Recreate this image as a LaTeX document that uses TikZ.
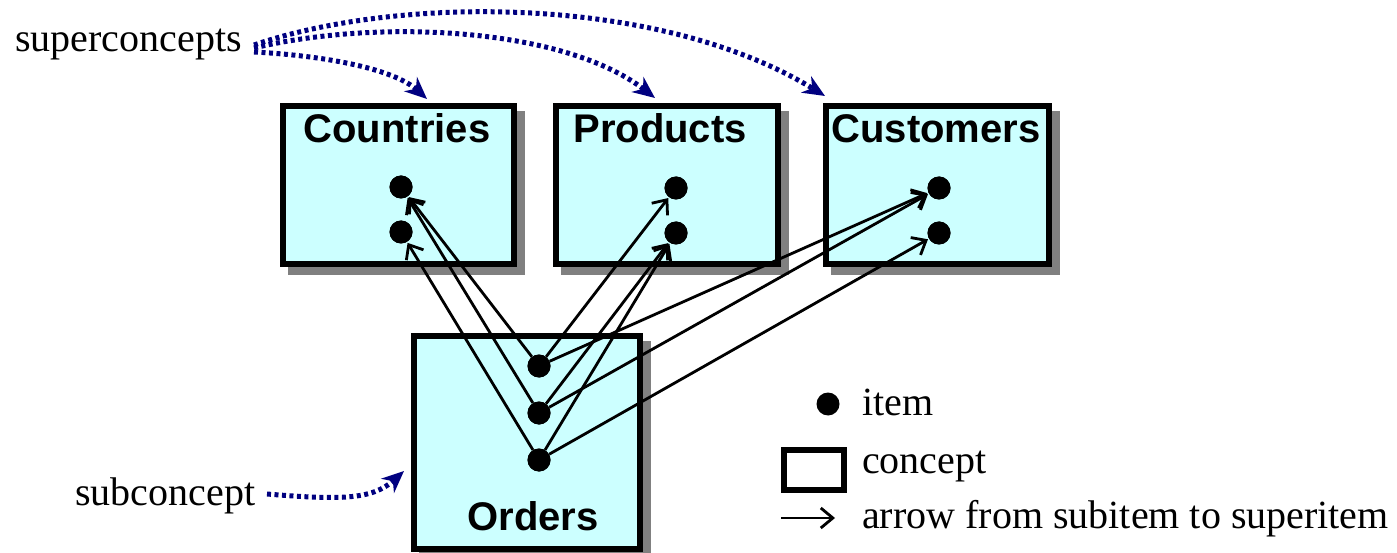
\documentclass[tikz,border=0pt]{standalone}
\usepackage{fontspec}
\setmainfont{Liberation Serif}
\newfontfamily\titlefont{Liberation Sans}
\usetikzlibrary{arrows.meta}
\definecolor{cyanfill}{HTML}{CCFFFF}
\definecolor{shadowgray}{HTML}{808080}
\definecolor{navyblue}{HTML}{000080}
\tikzset{
  concept/.style={draw, line width=6pt, fill=cyanfill, inner sep=0pt,
    preaction={draw=shadowgray, fill=shadowgray, line width=6pt,
      transform canvas={xshift=8pt,yshift=-8pt}}},
  title/.style={font=\titlefont\bfseries\fontsize{40}{46}\selectfont, inner sep=0pt, anchor=base},
  item/.style={circle, fill=black, minimum size=23pt, inner sep=0pt},
  label/.style={font=\fontsize{40}{48}\selectfont, inner sep=0pt, anchor=base west},
  subsup/.style={-{Straight Barb[length=12pt,width=20pt]}, line width=2.8pt, shorten >=1pt},
  hint/.style={navyblue, line width=5pt, dash pattern=on 4pt off 3.5pt,
    -{Stealth[length=22pt,width=19pt,inset=7pt]}}
}
\begin{document}
\begin{tikzpicture}[x=1pt,y=-1pt]
\useasboundingbox (0,0) rectangle (1397,553);
% concepts
\node[concept, minimum width=231pt, minimum height=158pt] (countries) at (398.5,185) {};
\node[concept, minimum width=222pt, minimum height=158pt] (products) at (667,185) {};
\node[concept, minimum width=223pt, minimum height=158pt] (customers) at (937.5,185) {};
\node[concept, minimum width=226pt, minimum height=213pt] (orders) at (527,442.5) {};
\node[title] (tcountries) at (397,143) {Countries};
\node[title] (tproducts) at (660,143) {Products};
\node[title] (tcustomers) at (936,143) {Customers};
\node[title] (torders) at (533,530) {Orders};
% items
\node[item] (c1) at (401,187) {};
\node[item] (c2) at (401,232) {};
\node[item] (p1) at (676,188) {};
\node[item] (p2) at (676,233) {};
\node[item] (u1) at (939,188) {};
\node[item] (u2) at (939,233) {};
\node[item] (o1) at (539,366) {};
\node[item] (o2) at (539,413) {};
\node[item] (o3) at (539,460) {};
% item arrows
\draw[subsup] (o1) -- (c1);
\draw[subsup] (o2) -- (c1);
\draw[subsup] (o3) -- (c2);
\draw[subsup] (o1) -- (p1);
\draw[subsup] (o2) -- (p2);
\draw[subsup] (o3) -- (p2);
\draw[subsup] (o1) -- (u1);
\draw[subsup] (o2) -- (u1);
\draw[subsup] (o3) -- (u2);
% redraw items on top
\foreach \n in {c1,c2,p1,p2,u1,u2,o1,o2,o3} {\fill (\n) circle (11.5pt);}
% hints
\node[label] (sup) at (15,52) {superconcepts};
\node[label] (sub) at (75,505) {subconcept};
\coordinate (s1) at (254,52);
\coordinate (s2) at (254,48);
\coordinate (s3) at (254,45);
\coordinate (e1) at (427,99);
\coordinate (e2) at (655,98);
\coordinate (e3) at (825,96);
\draw[hint] (s1) .. controls (330,56) and (395,70) .. (e1);
\draw[hint] (s2) .. controls (380,18) and (565,28) .. (e2);
\draw[hint] (s3) .. controls (400,-5) and (660,-5) .. (e3);
\coordinate (b0) at (267,494);
\coordinate (b1) at (404,471);
\draw[hint] (b0) .. controls (340,500) and (372,500) .. (b1);
% legend
\node[item] (litem) at (828,404) {};
\node[label] (titem) at (862,415) {item};
\node[draw, line width=6pt, fill=white, minimum width=60pt, minimum height=40pt, inner sep=0pt] (lbox) at (814,470) {};
\node[label] (tconcept) at (862,473) {concept};
\coordinate (la) at (781,518);
\coordinate (lb) at (836,518);
\draw[subsup] (la) -- (lb);
\node[label] (tarrow) at (862,528) {arrow from subitem to superitem};
\end{tikzpicture}
\end{document}
